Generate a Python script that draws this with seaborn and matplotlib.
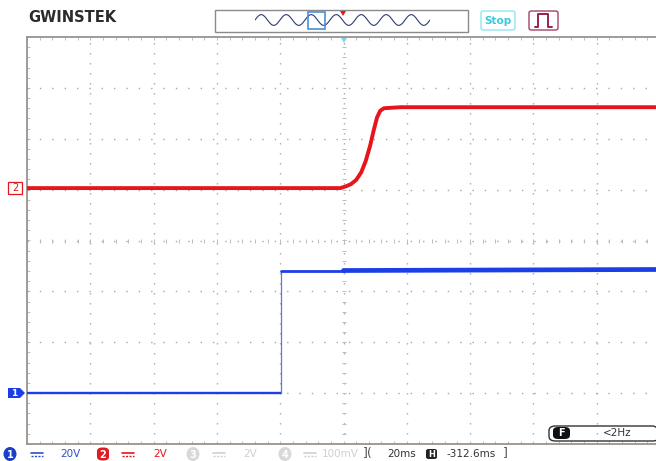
import matplotlib
matplotlib.use('Agg')
import matplotlib.pyplot as plt
import matplotlib.patches as mpatches
from matplotlib.lines import Line2D
import seaborn as sns
import numpy as np
import pandas as pd

# screen is 10 x 8 divisions, centre at (0, 0)
ch2_time = [-5.0, -0.05, 0.0, 0.05, 0.12, 0.20, 0.28, 0.35, 0.42, 0.48, 0.53, 0.58, 0.64, 0.90, 4.94]
ch2_level = [1.03, 1.03, 1.05, 1.07, 1.11, 1.19, 1.34, 1.56, 1.86, 2.18, 2.42, 2.55, 2.60, 2.62, 2.62]

# channel 1 (blue) trace
ch1_time = [-5.0, -0.99, -0.99, 0.0, 4.94]
ch1_level = [-3.0, -3.0, -0.59, -0.59, -0.57]

# status bar
ch_scales = ['20V', '2V', '2V', '100mV']
timebase = '20ms'
h_position = '-312.6ms'
freq_text = '<2Hz'

W, H = 656, 461
RED = '#e8141c'
BLUE = '#1c3ee6'
GRID = '#a8a8a8'


def fp(x, y):
    """pixel -> figure fraction"""
    return x / W, 1 - y / H


sns.set_style('white')
plt.rcParams['font.family'] = ['DejaVu Sans']

fig = plt.figure(figsize=(W / 100, H / 100), dpi=100)
fig.patch.set_facecolor('white')

# plot area: left 27px, top 37px, bottom 444px, 63.3px per division
left, top, bottom = 27, 37, 444
div_w = 63.3
right_div = (W - left) / div_w - 5
ax = fig.add_axes([left / W, 1 - bottom / H, (W - left) / W, (bottom - top) / H])
ax.set_xlim(-5, right_div)
ax.set_ylim(-4, 4)

# dotted graticule
for gx in range(-4, 5):
    ax.axvline(gx, color=GRID, lw=1.0, ls=(0, (1, 6.2)), zorder=1)
for gy in range(-3, 4):
    ax.axhline(gy, color=GRID, lw=1.0, ls=(0, (1, 7.9)), zorder=1)
# centre tick marks
minor_x = np.arange(-5, right_div, 0.2)
minor_y = np.arange(-4, 4.01, 0.2)
ax.plot(minor_x, np.zeros_like(minor_x), ls='none', marker='|', ms=3, color='#bbbbbb', mew=0.7, zorder=1)
ax.plot(np.zeros_like(minor_y), minor_y, ls='none', marker='_', ms=3, color='#bbbbbb', mew=0.7, zorder=1)

ax.set_xticks(np.arange(-5, right_div, 0.2))
ax.set_yticks(np.arange(-4, 4.01, 0.2))
ax.tick_params(direction='in', length=2.5, color='#bdbdbd', width=0.7,
               top=True, bottom=True, left=True, right=False,
               labelbottom=False, labelleft=False)
for side in ['left', 'top', 'bottom']:
    ax.spines[side].set_color('#9a928c')
    ax.spines[side].set_linewidth(1.3)
ax.spines['right'].set_visible(False)

df2 = pd.DataFrame({'t': ch2_time, 'v': ch2_level})
df1 = pd.DataFrame({'t': ch1_time, 'v': ch1_level})
sns.lineplot(data=df1.iloc[:2], x='t', y='v', ax=ax, color=BLUE, lw=1.7, sort=False,
             estimator=None, zorder=3)
sns.lineplot(data=df1.iloc[1:3], x='t', y='v', ax=ax, color='#5a78ee', lw=0.9, sort=False,
             estimator=None, zorder=3)
sns.lineplot(data=df1.iloc[2:4], x='t', y='v', ax=ax, color=BLUE, lw=2.0, sort=False,
             estimator=None, zorder=3)
sns.lineplot(data=df1.iloc[3:], x='t', y='v', ax=ax, color=BLUE, lw=3.4, sort=False,
             estimator=None, zorder=3)
sns.lineplot(data=df2, x='t', y='v', ax=ax, color=RED, lw=2.8, sort=False,
             estimator=None, zorder=4)
ax.set_xlabel('')
ax.set_ylabel('')

# ---- header ----
fig.text(*fp(28, 18), 'GWINSTEK', fontsize=10.5, fontweight='heavy', color='#2b2b2b',
         va='center', ha='left')
fig.patches.append(mpatches.Rectangle(fp(215, 32), 253 / W, 22 / H, transform=fig.transFigure,
                                      fill=False, ec='#8a8a8a', lw=1))
wave_ax = fig.add_axes([255 / W, 1 - 27 / H, 175 / W, 14 / H])
wave_ax.axis('off')
wx = np.linspace(0, 7 * 2 * np.pi, 300)
wave_ax.plot(wx, np.sin(wx), color='#2a3c78', lw=0.8)
wave_ax.set_xlim(wx[0], wx[-1])
wave_ax.set_ylim(-1.3, 1.3)
fig.patches.append(mpatches.Rectangle(fp(308, 29), 17 / W, 17 / H, transform=fig.transFigure,
                                      fill=False, ec='#4a90d8', lw=1.2))
fig.patches.append(mpatches.Polygon([fp(340, 11), fp(346, 11), fp(343, 16)], closed=True,
                                    transform=fig.transFigure, fc=RED, ec='none'))
fig.patches.append(mpatches.FancyBboxPatch(fp(481, 30), 34 / W, 19 / H, transform=fig.transFigure,
                                           boxstyle='round,pad=0,rounding_size=0.004',
                                           fill=False, ec='#8fe6ee', lw=1))
fig.text(*fp(498, 20.5), 'Stop', fontsize=7.5, fontweight='bold', color='#3cc8dc',
         ha='center', va='center')
fig.patches.append(mpatches.FancyBboxPatch(fp(529, 30), 29 / W, 19 / H, transform=fig.transFigure,
                                           boxstyle='round,pad=0,rounding_size=0.004',
                                           fill=False, ec='#a4406a', lw=1))
px_, py_ = zip(*[fp(535, 27), fp(538, 27), fp(538, 14), fp(548, 14), fp(548, 27), fp(552, 27)])
fig.lines.append(Line2D(px_, py_, transform=fig.transFigure, color='#9a1f50', lw=1.4))

# trigger marker on top
fig.patches.append(mpatches.Polygon([fp(341, 38), fp(347, 38), fp(344, 43)], closed=True,
                                    transform=fig.transFigure, fc='#7fd6e6', ec='none'))

# ---- channel markers on left ----
fig.patches.append(mpatches.Rectangle(fp(8, 194), 14 / W, 12 / H, transform=fig.transFigure,
                                      fill=False, ec=RED, lw=0.9))
fig.text(*fp(15, 188), '2', fontsize=7, color=RED, ha='center', va='center')
fig.patches.append(mpatches.Polygon([fp(8, 388), fp(20, 388), fp(25, 393), fp(20, 398), fp(8, 398)],
                                    closed=True, transform=fig.transFigure, fc=BLUE, ec='none'))
fig.text(*fp(14, 393.5), '1', fontsize=6.5, color='white', fontweight='bold', ha='center', va='center')

# ---- status bar ----
sy = 454


def coupling(x, color):
    a, b = fp(x, sy - 1.5), fp(x + 12, sy - 1.5)
    fig.lines.append(Line2D([a[0], b[0]], [a[1], b[1]], transform=fig.transFigure, color=color, lw=1.2))
    a, b = fp(x, sy + 1.5), fp(x + 12, sy + 1.5)
    fig.lines.append(Line2D([a[0], b[0]], [a[1], b[1]], transform=fig.transFigure, color=color, lw=1.0,
                            ls=(0, (1.5, 1))))


badge = [(10, '1', '#1b3fc8', 'circle'), (103, '2', '#e01b24', 'square'),
         (193, '3', '#d8d8d8', 'circle'), (285, '4', '#d8d8d8', 'circle')]
text_col = ['#2f4fbf', RED, '#d0d0d0', '#d0d0d0']
coup_x = [31, 122, 213, 304]
scale_x = [70, 160, 250, 340]
for (bx, lab, col, shape), tc, cx, sx, sc in zip(badge, text_col, coup_x, scale_x, ch_scales):
    if shape == 'circle':
        fig.patches.append(mpatches.Ellipse(fp(bx, sy), 13 / W, 14 / H, transform=fig.transFigure,
                                            fc=col, ec='none'))
    else:
        fig.patches.append(mpatches.FancyBboxPatch(fp(bx - 6, sy + 6.5), 12 / W, 13 / H,
                                                   transform=fig.transFigure,
                                                   boxstyle='round,pad=0,rounding_size=0.008',
                                                   fc=col, ec='none'))
    fig.text(*fp(bx, sy + 0.5), lab, fontsize=7, fontweight='bold', color='white',
             ha='center', va='center')
    coupling(cx, tc)
    fig.text(*fp(sx, sy), sc, fontsize=7.5, color=tc, ha='center', va='center')

fig.text(*fp(368, sy - 1), '](', fontsize=9, color='#555555', ha='center', va='center')
fig.text(*fp(402, sy), timebase, fontsize=7.5, color='#333333', ha='center', va='center')
fig.patches.append(mpatches.FancyBboxPatch(fp(426, sy + 5), 11 / W, 10 / H, transform=fig.transFigure,
                                           boxstyle='round,pad=0,rounding_size=0.004',
                                           fc='#222222', ec='none'))
fig.text(*fp(431.5, sy), 'H', fontsize=6, fontweight='bold', color='white', ha='center', va='center')
fig.text(*fp(471, sy), h_position, fontsize=7.5, color='#333333', ha='center', va='center')
fig.text(*fp(505, sy - 1), ']', fontsize=9, color='#555555', ha='center', va='center')

fig.patches.append(mpatches.FancyBboxPatch(fp(549, 441), 110 / W, 15 / H, transform=fig.transFigure,
                                           boxstyle='round,pad=0,rounding_size=0.01',
                                           fill=False, ec='#333333', lw=1))
fig.patches.append(mpatches.FancyBboxPatch(fp(553, 439), 17 / W, 12 / H, transform=fig.transFigure,
                                           boxstyle='round,pad=0,rounding_size=0.008',
                                           fc='#111111', ec='none'))
fig.text(*fp(561.5, 433), 'F', fontsize=7, fontweight='bold', color='white', ha='center', va='center')
fig.text(*fp(617, 433), freq_text, fontsize=7.5, color='#333333', ha='center', va='center')

fig.savefig('out.png', dpi=100, facecolor='white')
